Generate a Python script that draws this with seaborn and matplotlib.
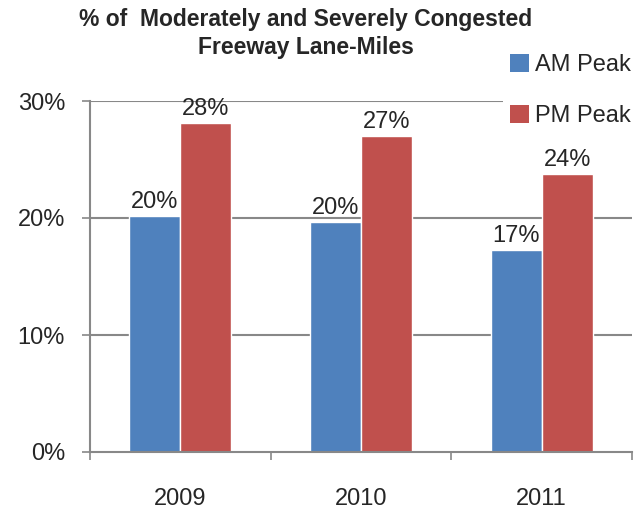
import matplotlib
matplotlib.use("Agg")
import matplotlib.pyplot as plt
import seaborn as sns
import pandas as pd
from matplotlib.patches import Patch
from matplotlib.ticker import FixedLocator, PercentFormatter

years = ["2009", "2010", "2011"]
am_peak = [20.2, 19.7, 17.3]
pm_peak = [28.1, 27.0, 23.8]
am_labels = ["20%", "20%", "17%"]
pm_labels = ["28%", "27%", "24%"]
series = ["AM Peak", "PM Peak"]
colors = ["#4F81BD", "#C0504D"]
title = "% of  Moderately and Severely Congested\nFreeway Lane-Miles"

df = pd.DataFrame({
    "year": years * 2,
    "value": am_peak + pm_peak,
    "series": [series[0]] * 3 + [series[1]] * 3,
})

sns.set_style("white")
plt.rcParams["font.family"] = ["Liberation Sans", "DejaVu Sans"]

fig = plt.figure(figsize=(6.39, 5.12), dpi=100)
ax = fig.add_axes([90 / 639, 1 - 452 / 512, (632 - 90) / 639, (452 - 101) / 512])

sns.barplot(data=df, x="year", y="value", hue="series", palette=colors,
            width=0.565, gap=0, ax=ax, legend=False, saturation=1, zorder=3)

ax.set_ylim(0, 30)
ax.set_xlim(-0.5, 2.5)
ax.set_yticks([0, 10, 20, 30])
ax.yaxis.set_major_formatter(PercentFormatter(decimals=0))
ax.set_xlabel("")
ax.set_ylabel("")

grid_c = "#888888"
for v in [10, 20, 30]:
    ax.axhline(v, color=grid_c, lw=1.5, zorder=1)

for s in ["top", "right"]:
    ax.spines[s].set_visible(False)
for s in ["left", "bottom"]:
    ax.spines[s].set_color(grid_c)
    ax.spines[s].set_linewidth(1.5)
    ax.spines[s].set_zorder(4)

ax.tick_params(axis="y", which="major", length=6, width=1.2, color=grid_c,
               direction="out", labelsize=17, pad=12, left=True)
ax.tick_params(axis="x", which="major", length=0, labelsize=17, pad=26)
ax.xaxis.set_minor_locator(FixedLocator([-0.5, 0.5, 1.5, 2.5]))
ax.tick_params(axis="x", which="minor", length=6, width=1.2, color=grid_c,
               direction="out", bottom=True)

for cont, labs in zip(ax.containers, [am_labels, pm_labels]):
    ax.bar_label(cont, labels=labs, fontsize=17, padding=2)

fig.text(0.478, 0.985, title, ha="center", va="top", fontsize=16.5,
         fontweight="bold", linespacing=1.3)

handles = [Patch(facecolor=c, edgecolor="none") for c in colors]
leg = fig.legend(handles, series, loc="upper left",
                 bbox_to_anchor=(503 / 639, 1 - 47 / 512), fontsize=17,
                 frameon=True, facecolor="white", edgecolor="none",
                 framealpha=1, handlelength=0.8, handleheight=0.8,
                 handletextpad=0.25, labelspacing=1.2, borderpad=0.3,
                 borderaxespad=0, fancybox=False)

fig.savefig("out.png", dpi=100)
